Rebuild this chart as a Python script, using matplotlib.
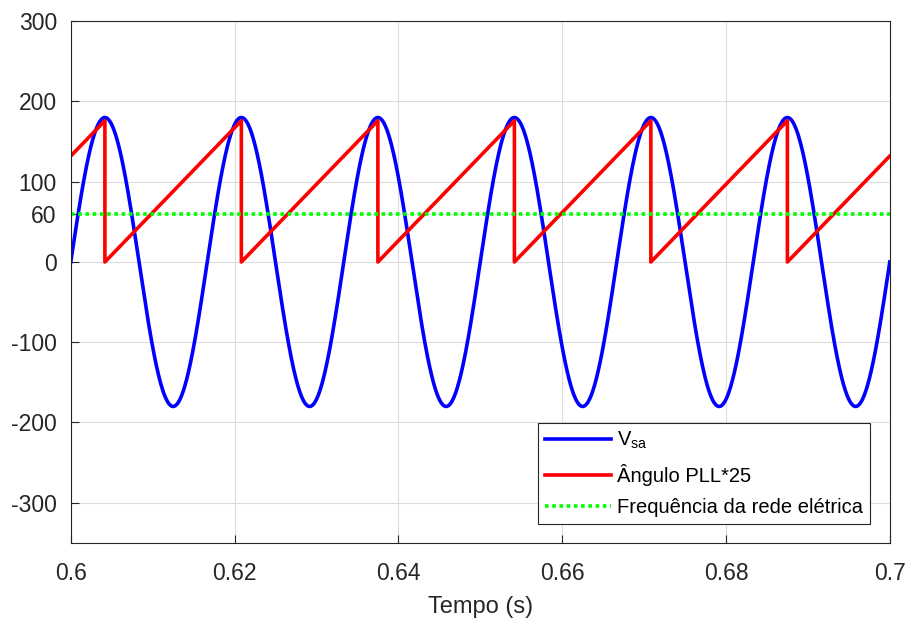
import numpy as np
import matplotlib.pyplot as plt

plt.rcParams['font.family'] = ['Liberation Sans', 'DejaVu Sans']
plt.rcParams['axes.unicode_minus'] = False
plt.rcParams['mathtext.fontset'] = 'custom'
plt.rcParams['mathtext.rm'] = 'Liberation Sans'

# tensao da rede
vsa_amp = 180
f_rede = 60
t_ini, t_fim = 0.6, 0.7

# angulo do PLL *25 - dente de serra
reset_times = [0.60417, 0.62083, 0.6375, 0.65417, 0.67083, 0.6875]
ramp_peak = 176
ramp_start = 132
ramp_end = 132

freq_line = 60

yticks = [-300, -200, -100, 0, 60, 100, 200, 300]
xticks = [0.6, 0.62, 0.64, 0.66, 0.68, 0.7]

t = np.linspace(t_ini, t_fim, 4000)
vsa = vsa_amp * np.sin(2 * np.pi * f_rede * (t - t_ini))

tx = [t_ini]
ty = [ramp_start]
for rt in reset_times:
    tx += [rt, rt]
    ty += [ramp_peak, 0]
tx.append(t_fim)
ty.append(ramp_end)

fig, ax = plt.subplots(figsize=(9.07, 6.24), dpi=100)
fig.subplots_adjust(left=0.078, right=0.981, top=0.966, bottom=0.13)

ax.plot(t, vsa, color='#0000ff', lw=2.6, label='V$_{\\rm sa}$')
ax.plot(tx, ty, color='#ff0000', lw=2.6, label='Ângulo PLL*25')
ax.plot([t_ini, t_fim], [freq_line, freq_line], color='#00ff00', lw=2.6,
        linestyle=(0, (1, 1)), label='Frequência da rede elétrica')

ax.set_xlim(t_ini, t_fim)
ax.set_ylim(-350, 300)
ax.set_xticks(xticks)
ax.set_xticklabels(['0.6', '0.62', '0.64', '0.66', '0.68', '0.7'])
ax.set_yticks(yticks)
ax.tick_params(direction='in', labelsize=16.5, colors='#262626', length=6)
ax.tick_params(axis='x', pad=14)
ax.tick_params(axis='y', pad=10)
ax.grid(True, color='#dcdcdc', lw=0.8)
ax.set_axisbelow(True)
for s in ax.spines.values():
    s.set_color('#262626')
    s.set_linewidth(0.8)
ax.set_xlabel('Tempo (s)', fontsize=17, color='#262626', labelpad=8)

leg = ax.legend(loc='lower right', bbox_to_anchor=(0.976, 0.036), fontsize=14.5,
                fancybox=False, framealpha=1, edgecolor='#262626',
                handlelength=3.3, borderpad=0.35, labelspacing=0.62,
                handletextpad=0.3, borderaxespad=0)
leg.get_frame().set_linewidth(0.8)

fig.savefig('out.png', dpi=100)
